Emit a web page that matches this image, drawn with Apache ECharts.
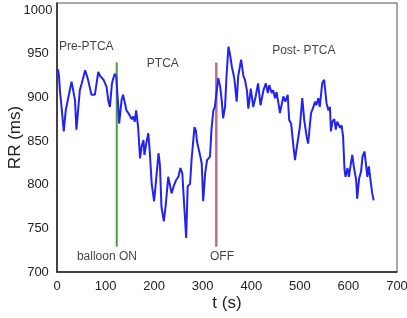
<!DOCTYPE html>
<html><head><meta charset="utf-8">
<script src="https://cdn.jsdelivr.net/npm/echarts@6/dist/echarts.min.js"></script>
<style>html,body{margin:0;padding:0;background:#fff}#c{width:407px;height:318px}</style>
</head><body><div id="c"></div>
<script>
const timeS = [0,2,4,6,10,14,18,23,30,34,37,40,44,47,51,58,61,64,71,78,85,88,92,96,99,102,106,109,113,115,119,122,126,128,133,136,140,143,147,150,154,157,160,163,167,171,174,178,180,184,188,191,195,200,204,209,212,215,220,224,229,232,236,240,245,250,254,258,262,266,269,274,277,283,286,288,292,296,298,301,305,309,315,318,322,325,329,332,336,339,342,346,349,353,356,360,365,370,373,379,384,387,391,394,399,404,409,414,419,425,430,434,437,442,445,449,452,456,459,462,466,470,475,478,482,487,490,493,500,505,509,514,517,523,528,531,534,538,541,546,550,555,559,562,564,567,571,574,577,580,583,586,589,592,594,598,601,605,608,611,616,618,622,626,629,633,636,639,642,646,649,652];
const rrMs = [929,932,925,908,885,861,885,899,918,916,897,863,861,908,916,931,933,920,903,903,929,925,927,920,922,912,895,889,915,920,927,924,890,870,897,903,893,885,882,880,875,878,872,885,866,830,843,851,834,848,859,838,801,781,805,836,822,775,758,777,809,809,790,798,805,809,819,813,775,739,798,801,828,866,862,850,840,830,824,781,813,828,832,863,885,889,908,922,912,897,876,889,924,958,950,935,922,895,924,943,924,920,908,887,910,889,901,916,891,908,916,905,914,905,908,899,906,893,882,882,901,895,903,874,870,843,828,840,866,899,874,855,847,882,889,895,891,899,889,916,920,893,885,889,861,872,875,863,872,870,865,868,855,817,809,819,809,824,834,821,805,784,807,815,832,838,824,809,821,803,790,782];
const balloonOn = [[123,729],[123,940]];
const balloonOff = [[328,729],[328,940]];
const annoTexts = ['Pre-PTCA','PTCA','Post- PTCA','balloon ON','OFF'];
const annoT = [4,185,443,41,315];
const annoV = [958,939,953,717,718];
const xTicks = [0,100,200,300,400,500,600,700];
const yTicks = [700,750,800,850,900,950,1000];
const yTop = 1008;

const chart = echarts.init(document.getElementById('c'), null, {renderer:'canvas'});
const font = 'Arial, "Liberation Sans", sans-serif';
chart.setOption({
  animation:false,
  grid:{left:57,right:10,top:3,bottom:46,show:true,borderColor:'#555',borderWidth:1,
    containLabel:false,outerBoundsMode:'none'},
  xAxis:{type:'value',min:xTicks[0],max:xTicks[xTicks.length-1],interval:100,
    name:'t (s)',nameLocation:'middle',nameGap:23,nameMoveOverlap:false,
    nameTextStyle:{fontSize:17,color:'#222',fontFamily:font},
    axisLine:{show:true,lineStyle:{color:'#222',width:1.5}},axisTick:{show:false},splitLine:{show:false},
    axisLabel:{fontSize:13,color:'#222',fontFamily:font,margin:8,formatter:v=>String(v)}},
  yAxis:{type:'value',min:yTicks[0],max:yTop,interval:50,
    name:'RR (ms)',nameLocation:'middle',nameGap:33,nameMoveOverlap:false,
    nameTextStyle:{fontSize:17,color:'#222',fontFamily:font},
    axisLine:{show:true,lineStyle:{color:'#222',width:1.5}},axisTick:{show:false},splitLine:{show:false},
    axisLabel:{fontSize:13,color:'#222',fontFamily:font,margin:19,align:'center',
      formatter:v=>yTicks.indexOf(v)>=0?String(v):''}},
  series:[
    {type:'line',data:timeS.map((t,i)=>[t,rrMs[i]]),showSymbol:false,symbol:'none',
     lineStyle:{color:'#2323f0',width:2},z:3},
    {type:'line',data:balloonOn,symbol:'none',lineStyle:{color:'#4a9e3c',width:2},z:2},
    {type:'line',data:balloonOff,symbol:'none',lineStyle:{color:'#b9708e',width:2.5},z:2},
    {type:'scatter',symbolSize:0,data:annoT.map((t,i)=>({value:[t,annoV[i]],name:annoTexts[i]})),
     label:{show:true,position:[0,0],align:'left',verticalAlign:'middle',
       formatter:p=>p.name,fontSize:12,color:'#111',fontFamily:font},z:4}
  ]
});
</script></body></html>
